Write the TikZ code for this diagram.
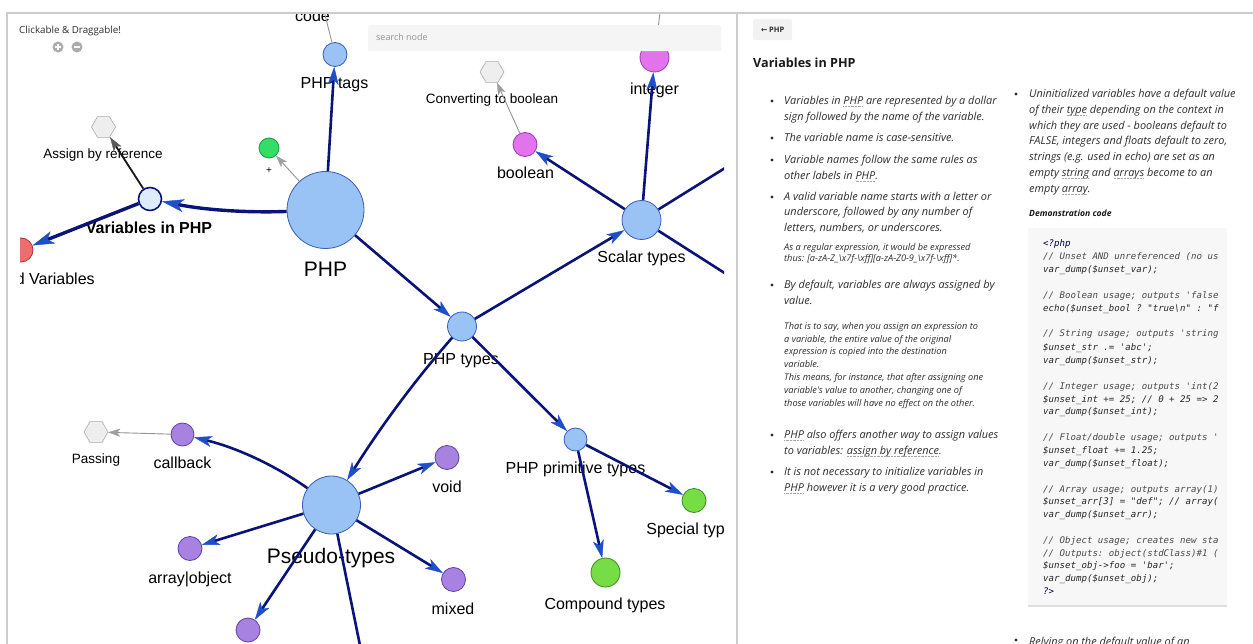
\documentclass[tikz,border=0pt]{standalone}
\usepackage{fontspec}
\setmainfont{Liberation Sans}
\newfontfamily\os{Open Sans}
\newfontfamily\dv{DejaVu Sans}
\setmonofont{DejaVu Sans Mono}
\usetikzlibrary{arrows.meta,shapes.geometric}
\definecolor{navy}{HTML}{0A1478}
\definecolor{tipblue}{HTML}{1F4FC8}
\definecolor{ndblue}{HTML}{99C2F5}
\definecolor{ndblueb}{HTML}{3A5DB5}
\definecolor{palebl}{HTML}{DDEBFB}
\definecolor{magf}{HTML}{E373EC}
\definecolor{magb}{HTML}{9A3AB0}
\definecolor{purf}{HTML}{A882E0}
\definecolor{purb}{HTML}{6040A8}
\definecolor{grnf}{HTML}{77DD44}
\definecolor{grnb}{HTML}{3A8A25}
\definecolor{brgrn}{HTML}{33DD66}
\definecolor{brgrnb}{HTML}{1E9A40}
\definecolor{redf}{HTML}{EE6E6E}
\definecolor{redb}{HTML}{A83535}
\definecolor{hexf}{HTML}{EEEEEE}
\definecolor{hexb}{HTML}{AAAAAA}
\definecolor{txt}{HTML}{2E2E2E}
\definecolor{frame}{HTML}{CCCCCC}
\definecolor{codebg}{HTML}{F7F7F7}
\definecolor{cmt}{HTML}{4A4A4A}
\newcommand\fs[1]{\fontsize{#1}{#1}\selectfont}
\newsavebox\dubox
\newcommand\du[1]{\sbox\dubox{#1}\leavevmode\rlap{\usebox\dubox}\raisebox{-2.2pt}{\textcolor{gray!70}{\hbox to \wd\dubox{\xleaders\hbox to 1.4pt{\rule{0.7pt}{0.5pt}\hss}\hfill}}}}
\begin{document}
\begin{tikzpicture}[x=1pt,y=-1pt,
  ed/.style={draw=navy,line width=2.6pt,-{Stealth[length=18pt,width=11pt,inset=5pt,color=tipblue,line width=0.4pt]}},
  edt/.style={draw=navy,line width=3.4pt,-{Stealth[length=22pt,width=13pt,inset=6pt,color=tipblue,line width=0.4pt]}},
  edn/.style={draw=navy,line width=2.6pt},
  gr/.style={draw=gray!85,line width=0.9pt,-{Stealth[length=12pt,width=8pt,inset=3pt,color=gray!75,line width=0.3pt]}},
  grn/.style={draw=gray!85,line width=0.9pt},
  blk/.style={draw=black!90,line width=1.8pt,-{Stealth[length=14pt,width=9pt,inset=3pt,color=gray!70!black,line width=0.3pt]}},
  nd/.style={circle,draw=ndblueb,fill=ndblue,line width=0.8pt,inner sep=0pt,minimum size=#1},
  mg/.style={nd=#1,draw=magb,fill=magf},
  pu/.style={nd=#1,draw=purb,fill=purf},
  gn/.style={nd=#1,draw=grnb,fill=grnf},
  hx/.style={regular polygon,regular polygon sides=6,draw=hexb,fill=hexf,line width=0.6pt,inner sep=0pt,minimum size=24pt},
  lab/.style={inner sep=0pt,text height=11.5pt,text depth=0pt,font=\fs{16}},
  labs/.style={inner sep=0pt,text height=9.7pt,text depth=0pt,font=\fs{13.5}},
  labb/.style={inner sep=0pt,text height=15pt,text depth=0pt,font=\fs{21}},
  rt/.style={inner sep=0pt,anchor=base west,text=txt,font=\os\itshape\fs{10.9}},
  rs/.style={inner sep=0pt,anchor=base west,text=txt,font=\os\itshape\fs{9.2}},
  cd/.style={inner sep=0pt,anchor=base west,text=black!85,font=\ttfamily\itshape\fs{9.1}},
  cc/.style={cd,text=cmt},
  bul/.style={circle,fill=txt,inner sep=0pt,minimum size=3.4pt}
]
\useasboundingbox (0,0) rectangle (1253,644);
\fill[white] (0,0) rectangle (1253,644);

% ---------------- graph canvas ----------------
\begin{scope}
\clip (20,13) rectangle (724,644);
% labels (under the connectors)
\node[lab] (lcode) at (312.5,16) {code};
\node[lab] (ltags) at (334.5,83) {PHP tags};
\node[labb] (lphp) at (325.5,269) {PHP};
\node[inner sep=0pt,font=\fs{10}] (lplus) at (269,171) {+};
\node[lab,font=\bfseries\fs{16}] (lvars) at (149,228) {Variables in PHP};
\node[labs] (lasg) at (103,154) {Assign by reference};
\node[lab] (lred) at (21,279) {Predefined Variables};
\node[labs] (lconv) at (492,99) {Converting to boolean};
\node[lab] (lbool) at (525.5,173) {boolean};
\node[lab] (lint) at (654.5,89) {integer};
\node[lab] (lscal) at (641.5,257) {Scalar types};
\node[lab] (lptyp) at (461,359) {PHP types};
\node[lab] (lprim) at (575.5,468) {PHP primitive types};
\node[lab] (lspec) at (694,529) {Special types};
\node[lab] (lcomp) at (605,604) {Compound types};
\node[lab] (lvoid) at (447,487) {void};
\node[lab] (lmix) at (453,609) {mixed};
\node[labb] (lpseu) at (331,556) {Pseudo-types};
\node[lab] (lcb) at (182.5,463) {callback};
\node[lab] (larr) at (190,578) {array|object};
\node[labs] (lpass) at (96,459) {Passing};

% nodes
\node[nd=77pt] (php) at (325.5,210) {};
\node[nd=24pt] (tags) at (335,54.5) {};
\node[nd=20pt,draw=brgrnb,fill=brgrn] (plus) at (269,148) {};
\node[nd=23pt,draw=navy,fill=palebl,line width=1.6pt] (vars) at (150,199) {};
\node[hx] (asg) at (103.5,127) {};
\node[nd=24pt,draw=redb,fill=redf] (red) at (21,250) {};
\node[nd=39pt] (scalar) at (641.5,220) {};
\node[mg=24pt] (bool) at (525,144.5) {};
\node[hx] (conv) at (492,72) {};
\node[mg=29pt] (int) at (654.5,57.5) {};
\node[nd=29pt] (ptypes) at (462,326.5) {};
\node[nd=23pt] (prim) at (575.5,439.5) {};
\node[gn=24pt] (spec) at (694,500.5) {};
\node[gn=29pt] (comp) at (605.5,572.5) {};
\node[nd=58pt] (pseudo) at (331.5,505) {};
\node[pu=23pt] (cb) at (182.5,434.5) {};
\node[hx] (pass) at (96,432) {};
\node[pu=24pt] (arr) at (190,548.5) {};
\node[pu=24pt] (void) at (447,457.5) {};
\node[pu=24pt] (mixed) at (453.5,579.5) {};
\node[pu=24pt] (pbot) at (248,630) {};
\coordinate (codec) at (318,-13);
\coordinate (intup) at (663,-12);
\coordinate (off1) at (770,140);
\coordinate (off2) at (770,302);
\coordinate (off3) at (367,680);

% connectors
\draw[ed] (php) -- (tags);
\draw[edt] (php) .. controls (245,213) and (203,209.6) .. (vars);
\draw[edt] (vars) -- (red);
\draw[blk] (vars) -- (asg);
\draw[gr] (php) -- (plus);
\draw[grn] (tags) -- (codec);
\draw[ed] (php) -- (ptypes);
\draw[ed] (ptypes) -- (scalar);
\draw[ed] (scalar) -- (int);
\draw[grn] (int) -- (intup);
\draw[ed] (scalar) -- (bool);
\draw[gr] (bool) -- (conv);
\draw[edn] (scalar) -- (off1);
\draw[edn] (scalar) -- (off2);
\draw[ed] (ptypes) -- (prim);
\draw[ed] (prim) -- (spec);
\draw[ed] (prim) -- (comp);
\draw[ed] (ptypes) .. controls (414,381.2) and (379.4,428.6) .. (pseudo);
\draw[ed] (pseudo) .. controls (272.7,463.8) and (234.7,447.2) .. (cb);
\draw[gr] (cb) -- (pass);
\draw[ed] (pseudo) -- (arr);
\draw[ed] (pseudo) -- (void);
\draw[ed] (pseudo) -- (mixed);
\draw[ed] (pseudo) -- (pbot);
\draw[edn] (pseudo) -- (off3);
\end{scope}

% ---------------- canvas controls ----------------
\node[inner sep=0pt,anchor=base west,text=txt,font=\os\fs{9.8}] (click) at (19,33.5) {Clickable \& Draggable!};
\node[circle,fill=gray!65,inner sep=0pt,minimum size=11pt] (zin) at (58,47) {};
\node[circle,fill=gray!65,inner sep=0pt,minimum size=11pt] (zout) at (77,47) {};
\draw[white,line width=1.4pt] ([xshift=-3pt]zin.center) -- ([xshift=3pt]zin.center);
\draw[white,line width=1.4pt] ([yshift=-3pt]zin.center) -- ([yshift=3pt]zin.center);
\draw[white,line width=1.4pt] ([xshift=-3pt]zout.center) -- ([xshift=3pt]zout.center);
\node[draw=none,fill=gray!8,rounded corners=2pt,minimum width=353pt,minimum height=26pt,anchor=north west,inner sep=0pt] (search) at (368,25) {};
\node[inner sep=0pt,anchor=base west,text=gray!85,font=\os\fs{9}] (searcht) at (376,41) {search node};

% ---------------- frames ----------------
\draw[frame,line width=1.4pt] (7,644) -- (7,13) -- (1253,13);
\draw[frame,line width=1.6pt] (737,13) -- (737,644);

% ---------------- right panel ----------------
\node[fill=gray!10,rounded corners=1.5pt,minimum width=39pt,minimum height=21pt,anchor=north west,inner sep=0pt] (back) at (753,19) {};
\node[inner sep=0pt,font=\os\bfseries\fs{7.5},text=txt] (backt) at (back.center) {{\dv ←} PHP};
\node[inner sep=0pt,anchor=base west,text=black!90,font=\os\bfseries\fs{12.6}] (head) at (753,68) {Variables in PHP};

\node[bul] (b1) at (772,101) {};
\node[rt] (t1) at (784,104.5) {Variables in \du{PHP} are represented by a dollar};
\node[rt] (t2) at (784,120.5) {sign followed by the name of the variable.};
\node[bul] (b2) at (772,138) {};
\node[rt] (t3) at (784,141.5) {The variable name is case-sensitive.};
\node[bul] (b3) at (772,160) {};
\node[rt] (t4) at (784,163.5) {Variable names follow the same rules as};
\node[rt] (t5) at (784,179.5) {other labels in \du{PHP}.};
\node[bul] (b4) at (772,197) {};
\node[rt] (t6) at (784,200.5) {A valid variable name starts with a letter or};
\node[rt] (t7) at (784,215.5) {underscore, followed by any number of};
\node[rt] (t8) at (784,231.5) {letters, numbers, or underscores.};
\node[rs] (s1) at (784,250.7) {As a regular expression, it would be expressed};
\node[rs] (s2) at (784,262) {thus: [a-zA-Z\_\textbackslash x7f-\textbackslash xff][a-zA-Z0-9\_\textbackslash x7f-\textbackslash xff]*.};
\node[bul] (b5) at (772,285) {};
\node[rt] (t9) at (784,288.5) {By default, variables are always assigned by};
\node[rt] (t10) at (784,304.5) {value.};
\node[rs] (s3) at (784,330) {That is to say, when you assign an expression to};
\node[rs] (s4) at (784,342.3) {a variable, the entire value of the original};
\node[rs] (s5) at (784,355) {expression is copied into the destination};
\node[rs] (s6) at (784,367.8) {variable.};
\node[rs] (s7) at (784,380.8) {This means, for instance, that after assigning one};
\node[rs] (s8) at (784,393.5) {variable's value to another, changing one of};
\node[rs] (s9) at (784,406) {those variables will have no effect on the other.};
\node[bul] (b6) at (772,435) {};
\node[rt] (t11) at (784,438.5) {\du{PHP} also offers another way to assign values};
\node[rt] (t12) at (784,454.5) {to variables: \du{assign by reference}.};
\node[bul] (b7) at (772,472) {};
\node[rt] (t13) at (784,475.5) {It is not necessary to initialize variables in};
\node[rt] (t14) at (784,491.5) {\du{PHP} however it is a very good practice.};

\node[bul] (b8) at (1016,94) {};
\node[rt] (u1) at (1029,97.5) {Uninitialized variables have a default value};
\node[rt] (u2) at (1029,113.3) {of their \du{type} depending on the context in};
\node[rt] (u3) at (1029,129.1) {which they are used - booleans default to};
\node[rt] (u4) at (1029,144.9) {FALSE, integers and floats default to zero,};
\node[rt] (u5) at (1029,160.7) {strings (e.g. used in echo) are set as an};
\node[rt] (u6) at (1029,176.5) {empty \du{string} and \du{arrays} become to an};
\node[rt] (u7) at (1029,192.3) {empty \du{array}.};
\node[rs,font=\os\bfseries\itshape\fs{8.6},text=black!90] (demo) at (1029,216.7) {Demonstration code};

\fill[codebg] (1028,228) rectangle (1227,605);
\draw[gray!25,line width=2pt] (1028,606) -- (1227,606);
\node[cd,text=black!75!blue] (c1) at (1043,247) {<?php};
\node[cc] (c2) at (1043,260) {// Unset AND unreferenced (no us};
\node[cd] (c3) at (1043,272.5) {var\_dump(\$unset\_var);};
\node[cc] (c4) at (1043,298.5) {// Boolean usage; outputs 'false};
\node[cd] (c5) at (1043,311.5) {echo(\$unset\_bool ? "true\textbackslash n" : "f};
\node[cc] (c6) at (1043,337) {// String usage; outputs 'string};
\node[cd] (c7) at (1043,350) {\$unset\_str .= 'abc';};
\node[cd] (c8) at (1043,363) {var\_dump(\$unset\_str);};
\node[cc] (c9) at (1043,389) {// Integer usage; outputs 'int(2};
\node[cd] (c10) at (1043,402) {\$unset\_int += 25; // 0 + 25 => 2};
\node[cd] (c11) at (1043,414.5) {var\_dump(\$unset\_int);};
\node[cc] (c12) at (1043,440) {// Float/double usage; outputs '};
\node[cd] (c13) at (1043,453) {\$unset\_float += 1.25;};
\node[cd] (c14) at (1043,466) {var\_dump(\$unset\_float);};
\node[cc] (c15) at (1043,492) {// Array usage; outputs array(1)};
\node[cd] (c16) at (1043,504.5) {\$unset\_arr[3] = "def"; // array(};
\node[cd] (c17) at (1043,517) {var\_dump(\$unset\_arr);};
\node[cc] (c18) at (1043,543) {// Object usage; creates new sta};
\node[cc] (c19) at (1043,556) {// Outputs: object(stdClass)\#1 (};
\node[cd] (c20) at (1043,568.5) {\$unset\_obj->foo = 'bar';};
\node[cd] (c21) at (1043,581.5) {var\_dump(\$unset\_obj);};
\node[cd,text=black!75!blue] (c22) at (1043,594) {?>};

\node[bul] (b9) at (1016,640) {};
\node[rt] (u8) at (1029,645) {Relying on the default value of an};
\end{tikzpicture}
\end{document}
